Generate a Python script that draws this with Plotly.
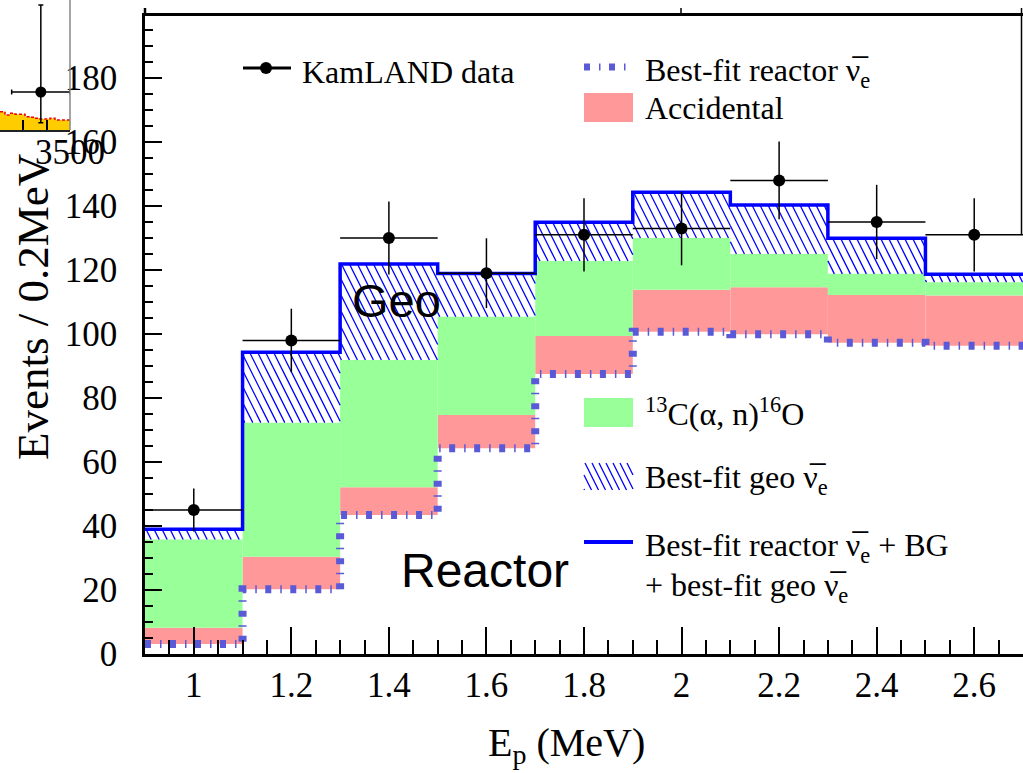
import numpy as np
import plotly.graph_objects as go

W, H = 1023, 773

# ---- Prompt-energy binning (MeV) ----
bin_lo = [0.9, 1.1, 1.3, 1.5, 1.7, 1.9, 2.1, 2.3, 2.5]
bin_width = 0.2
e_centers = [1.0, 1.2, 1.4, 1.6, 1.8, 2.0, 2.2, 2.4, 2.6]
x_ticks = [1.0, 1.2, 1.4, 1.6, 1.8, 2.0, 2.2, 2.4, 2.6]
x_ticktext = ["1", "1.2", "1.4", "1.6", "1.8", "2", "2.2", "2.4", "2.6"]
y_ticks = [0, 20, 40, 60, 80, 100, 120, 140, 160, 180]

# ---- KamLAND candidate counts per bin ----
data_counts = [45, 98, 130, 119, 131, 133, 148, 135, 131]

# ---- Expected components (events / 0.2 MeV) ----
reactor = [3.1, 20.2, 43.4, 64.3, 87.5, 100.7, 99.9, 97.3, 96.3]
accidental = [5.1, 10.2, 8.7, 10.4, 11.9, 13.1, 14.7, 14.9, 15.7]
alpha_n = [27.6, 41.9, 39.8, 30.7, 23.4, 16.2, 10.4, 6.6, 4.2]
geo = [3.2, 22.0, 30.0, 13.5, 12.1, 14.3, 15.3, 11.1, 2.5]

# ---- Neighbouring panel fragment (upper-left) ----
inset_lo, inset_hi = 3200, 3500
inset_hist = [18.3, 15.0, 16.7, 15.7, 15.7, 13.3, 12.7, 11.7, 11.0, 11.0, 11.7, 10.0, 10.0, 10.0]
inset_pt_x = [3375]
inset_pt_y = [38]
inset_err_up = [87]
inset_err_dn = [30.7]
inset_err_x = [125]

SERIF = "Liberation Serif, Times New Roman, serif"
SANS = "Liberation Sans, Arial, sans-serif"
NUBAR = "\u03bd\u0305"

def X(px):
    return px / W

def Y(py):
    return 1 - py / H

# plot-area geometry (pixels)
PL, PR, PT, PB = 145, 1023, 16, 654
x_range = [0.9, 2.7]
y_top = (PB - PT) / 3.2
y_range = [0, y_top]

# cumulative stack
base_acc = reactor
base_an = [r + a for r, a in zip(reactor, accidental)]
base_geo = [b + n for b, n in zip(base_an, alpha_n)]
total = [b + g for b, g in zip(base_geo, geo)]
edges = bin_lo + [bin_lo[-1] + bin_width]

def step(v):
    return list(v) + [v[-1]]

fig = go.Figure()

# Accidental and 13C(a,n)16O layers
fig.add_bar(x=e_centers, y=accidental, base=base_acc, width=bin_width,
            marker=dict(color="#ff9999", line=dict(width=0)), showlegend=False)
fig.add_bar(x=e_centers, y=alpha_n, base=base_an, width=bin_width,
            marker=dict(color="#99ff99", line=dict(width=0)), showlegend=False)

# Geo-neutrino layer: diagonal hatching between the stack and the total
xs_per_px = (x_range[1] - x_range[0]) / (PR - PL)
ys_per_px = (y_range[1] - y_range[0]) / (PB - PT)
spacing = 8 * xs_per_px                 # line spacing along x
kd = 0.5 * xs_per_px / ys_per_px        # x shift per unit of y
hx, hy = [], []
c_grid = np.arange(x_range[0] - 2.0, x_range[1] + 0.5, spacing)
for lo, b, t in zip(bin_lo, base_geo, total):
    x0, x1 = lo, lo + bin_width
    for c in c_grid:
        # line: x = c + kd * (y_top - y)
        y_hi = min(t, y_top - (x0 - c) / kd)
        y_lo = max(b, y_top - (x1 - c) / kd)
        if y_lo < y_hi:
            hx += [c + kd * (y_top - y_hi), c + kd * (y_top - y_lo), None]
            hy += [y_hi, y_lo, None]
fig.add_scatter(x=hx, y=hy, mode="lines", line=dict(color="#0000ff", width=1.3),
                hoverinfo="skip", showlegend=False)

# Best-fit reactor spectrum (dotted)
fig.add_scatter(x=edges, y=step(reactor), mode="lines",
                line=dict(shape="hv", color="#5a5ad8", width=8, dash="6px,9px,1.5px,8.5px"),
                showlegend=False)
# Total expectation
fig.add_scatter(x=edges, y=step(total), mode="lines",
                line=dict(shape="hv", color="#0000ff", width=3.5), showlegend=False)
# Data
fig.add_scatter(x=e_centers, y=data_counts, mode="markers",
                marker=dict(color="black", size=12),
                error_y=dict(type="data", array=list(np.sqrt(data_counts)), color="black",
                             thickness=1.5, width=0),
                error_x=dict(type="data", array=[bin_width / 2] * len(e_centers), color="black",
                             thickness=1.5, width=0),
                showlegend=False)

# ---- upper-left fragment ----
iw = (inset_hi - inset_lo) / len(inset_hist)
i_edges = [inset_lo + i * iw for i in range(len(inset_hist) + 1)]
i_centers = [inset_lo + (i + 0.5) * iw for i in range(len(inset_hist))]
fig.add_bar(x=i_centers, y=inset_hist, width=iw, xaxis="x2", yaxis="y2",
            marker=dict(color="#ffcc00", line=dict(width=0)), showlegend=False)
fig.add_scatter(x=i_edges, y=step(inset_hist), xaxis="x2", yaxis="y2", mode="lines",
                line=dict(shape="hv", color="#ee0000", width=1.5, dash="3px,2px"),
                showlegend=False)
fig.add_scatter(x=inset_pt_x, y=inset_pt_y, xaxis="x2", yaxis="y2", mode="markers",
                marker=dict(color="black", size=11),
                error_y=dict(type="data", symmetric=False, array=inset_err_up,
                             arrayminus=inset_err_dn, color="black", thickness=1.5, width=2.5),
                error_x=dict(type="data", array=inset_err_x, color="black", thickness=1.5, width=2.5),
                showlegend=False)

# ---- legend (drawn by hand) ----
shapes = []
ann = []
LX0, LX1 = 584, 633
TX = 643

def lgd_text(txt, x, y, size=32):
    ann.append(dict(text=txt, x=X(x), y=Y(y), xref="paper", yref="paper",
                    xanchor="left", yanchor="middle", showarrow=False,
                    font=dict(family=SERIF, size=size, color="black")))

# KamLAND data
shapes.append(dict(type="line", xref="paper", yref="paper", x0=X(243), x1=X(291), y0=Y(68), y1=Y(68),
                   line=dict(color="black", width=3)))
shapes.append(dict(type="circle", xref="paper", yref="paper", x0=X(260), x1=X(272), y0=Y(62), y1=Y(74),
                   fillcolor="black", line=dict(color="black", width=0)))
lgd_text("KamLAND data", 300, 72)
# Best-fit reactor (dotted)
shapes.append(dict(type="line", xref="paper", yref="paper", x0=X(584), x1=X(626), y0=Y(67), y1=Y(67),
                   line=dict(color="#5a5ad8", width=7, dash="6px,9px,1.5px,8.5px")))
lgd_text(f"Best-fit reactor {NUBAR}<sub>e</sub>", TX, 72)
# Accidental
shapes.append(dict(type="rect", xref="paper", yref="paper", x0=X(LX0), x1=X(LX1), y0=Y(93), y1=Y(122),
                   fillcolor="#ff9999", line=dict(width=0)))
lgd_text("Accidental", TX, 108)
# 13C(a,n)16O
shapes.append(dict(type="rect", xref="paper", yref="paper", x0=X(LX0), x1=X(LX1), y0=Y(398), y1=Y(427),
                   fillcolor="#99ff99", line=dict(width=0)))
lgd_text("<sup>13</sup>C(\u03b1, n)<sup>16</sup>O", TX, 412)
# Best-fit geo (hatched swatch)
bx0, bx1, by0, by1 = LX0, LX1, 463, 490
path = ""
for c in np.arange(bx0 - 20, bx1 + 1, 7.0):
    # x = c + 0.5*(y - by0)
    ya = max(by0, by0 + (bx0 - c) / 0.5)
    yb = min(by1, by0 + (bx1 - c) / 0.5)
    if ya < yb:
        xa = c + 0.5 * (ya - by0)
        xb = c + 0.5 * (yb - by0)
        path += f"M{X(xa):.5f},{Y(ya):.5f} L{X(xb):.5f},{Y(yb):.5f} "
shapes.append(dict(type="path", xref="paper", yref="paper", path=path,
                   line=dict(color="#0000ff", width=1.3)))
lgd_text(f"Best-fit geo {NUBAR}<sub>e</sub>", TX, 480)
# Total line
shapes.append(dict(type="line", xref="paper", yref="paper", x0=X(LX0), x1=X(LX1), y0=Y(542), y1=Y(542),
                   line=dict(color="#0000ff", width=4)))
lgd_text(f"Best-fit reactor {NUBAR}<sub>e</sub> + BG", TX, 547)
lgd_text(f"+ best-fit geo {NUBAR}<sub>e</sub>", TX, 587)

# region labels
ann.append(dict(text="Geo", x=X(396), y=Y(300), xref="paper", yref="paper", showarrow=False,
                xanchor="center", yanchor="middle", font=dict(family=SANS, size=47, color="black")))
ann.append(dict(text="Reactor", x=X(485), y=Y(570), xref="paper", yref="paper", showarrow=False,
                xanchor="center", yanchor="middle", font=dict(family=SANS, size=48, color="black")))

# axis titles
ann.append(dict(text="Events / 0.2MeV", x=X(33), y=Y(307), xref="paper", yref="paper",
                textangle=-90, showarrow=False, xanchor="center", yanchor="middle",
                font=dict(family=SERIF, size=45, color="black")))
ann.append(dict(text="E<sub>p</sub> (MeV)", x=X(566), y=Y(745), xref="paper", yref="paper",
                showarrow=False, xanchor="center", yanchor="middle",
                font=dict(family=SERIF, size=40, color="black")))

# frame pieces around the top edge
shapes.append(dict(type="line", xref="paper", yref="paper", x0=X(PL), x1=X(PL), y0=Y(8), y1=Y(PT),
                   line=dict(color="black", width=2.5)))
shapes.append(dict(type="line", xref="paper", yref="paper", x0=X(681), x1=X(681), y0=Y(8), y1=Y(PT),
                   line=dict(color="black", width=1.5)))
shapes.append(dict(type="line", xref="paper", yref="paper", x0=X(1021.5), x1=X(1021.5), y0=Y(8), y1=Y(234),
                   line=dict(color="black", width=1.5)))
# right edge of the upper-left fragment
shapes.append(dict(type="line", xref="x2 domain", yref="y2 domain", x0=1, x1=1, y0=0, y1=1,
                   line=dict(color="#888888", width=1.5)))

fig.update_layout(
    width=W, height=H, autosize=False,
    margin=dict(l=0, r=0, t=0, b=0, pad=0, autoexpand=False),
    paper_bgcolor="white", plot_bgcolor="rgba(0,0,0,0)",
    barmode="overlay", showlegend=False,
    shapes=shapes, annotations=ann,
    xaxis=dict(domain=[X(PL), X(PR)], range=x_range, anchor="y", automargin=False,
               showline=True, linecolor="black", linewidth=2.5, mirror=True,
               showgrid=False, zeroline=False,
               tickmode="array", tickvals=x_ticks, ticktext=x_ticktext,
               ticks="inside", ticklen=27, tickwidth=2, tickcolor="black",
               ticklabelstandoff=-2,
               tickfont=dict(family=SERIF, size=35, color="black"),
               minor=dict(tickmode="linear", tick0=0.9, dtick=0.05, ticks="inside",
                          ticklen=14, tickwidth=1.5, tickcolor="black", showgrid=False)),
    yaxis=dict(domain=[Y(PB), Y(PT)], range=y_range, anchor="x", automargin=False,
               showline=True, linecolor="black", linewidth=2.5,
               showgrid=False, zeroline=False,
               tickmode="array", tickvals=y_ticks,
               ticks="inside", ticklen=17, tickwidth=2, tickcolor="black",
               ticklabelstandoff=18,
               tickfont=dict(family=SERIF, size=35, color="black"),
               minor=dict(tickmode="linear", tick0=0, dtick=5, ticks="inside",
                          ticklen=8, tickwidth=1.5, tickcolor="black", showgrid=False)),
    xaxis2=dict(domain=[0, X(70)], range=[inset_lo, inset_hi], anchor="y2", automargin=False,
                showline=True, linecolor="#222222", linewidth=2,
                showgrid=False, zeroline=False,
                tickmode="array", tickvals=[3300, 3400, 3500], ticktext=["", "", "3500"],
                ticks="inside", ticklen=10, tickwidth=1.5, tickcolor="black",
                ticklabelstandoff=-10,
                tickfont=dict(family=SERIF, size=35, color="black")),
    yaxis2=dict(domain=[Y(130), 1], range=[0, 130], anchor="x2", automargin=False,
                showline=False, showgrid=False, zeroline=False,
                showticklabels=False, ticks=""),
)

fig.write_html("out.html")
